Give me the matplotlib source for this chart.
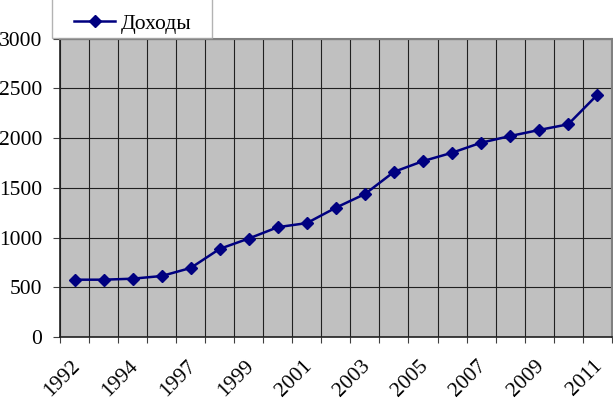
import matplotlib
matplotlib.use('Agg')
import matplotlib.pyplot as plt
import matplotlib.transforms as mtransforms
from matplotlib.legend_handler import HandlerLine2D
import numpy as np

# income by year
years = ['1992', '1993', '1994', '1995', '1997', '1998', '1999', '2000', '2001', '2002',
         '2003', '2004', '2005', '2006', '2007', '2008', '2009', '2010', '2011']
income = [576, 576, 586, 613, 694, 886, 990, 1104, 1145, 1300,
          1437, 1660, 1768, 1852, 1953, 2020, 2081, 2138, 2434]
y_ticks = [0, 500, 1000, 1500, 2000, 2500, 3000]
legend_label = 'Доходы'

plt.rcParams['font.family'] = ['Liberation Serif', 'DejaVu Serif']
FS = 15.5

fig = plt.figure(figsize=(6.13, 3.99), dpi=100)
ax = fig.add_axes([0.0979, 0.1554, 0.9001, 0.748])
ax.set_facecolor('#c0c0c0')

x = np.arange(len(years))
ax.plot(x, income, color='#000080', lw=1.8, marker='D', markersize=6.5,
        markerfacecolor='#000080', markeredgecolor='#000080', label=legend_label, zorder=3)

ax.set_xlim(-0.5, len(years) - 0.5)
ax.set_ylim(0, 3000)
ax.set_yticks(y_ticks)
ax.set_yticklabels([str(v) for v in y_ticks], fontsize=FS)

# boundaries as major ticks (grid), labels on minor ticks at every other category
ax.set_xticks(np.arange(-0.5, len(years), 1.0))
ax.set_xticklabels([])
ax.set_xticks(x[::2], minor=True)
ax.set_xticklabels([years[i] for i in x[::2]], minor=True, rotation=45,
                   ha='right', va='top', rotation_mode='anchor', fontsize=FS)
ax.tick_params(axis='x', which='major', length=4, width=0.8, color='#404040', direction='out')
ax.tick_params(axis='x', which='minor', length=0, pad=14)
ax.tick_params(axis='y', length=5, width=0.8, color='#404040', pad=8)

shift = mtransforms.ScaledTranslation(-4 / 100, 0, fig.dpi_scale_trans)
for lab in ax.get_xticklabels(minor=True):
    lab.set_transform(lab.get_transform() + shift)

ax.grid(True, which='major', color='#202020', lw=0.8)
ax.set_axisbelow(True)

for side in ['left', 'bottom']:
    ax.spines[side].set_color('#202020')
    ax.spines[side].set_linewidth(1.2)
for side in ['top', 'right']:
    ax.spines[side].set_color('#808080')
    ax.spines[side].set_linewidth(1.5)

# legend: frame runs off the top of the image, handle sits well inside the frame
leg = ax.legend(loc='lower left', bbox_to_anchor=(52 / 613, 361 / 399, 160 / 613, 60 / 399),
                bbox_transform=fig.transFigure, mode='expand', fontsize=FS,
                frameon=True, fancybox=False, borderaxespad=0, borderpad=0.2,
                handlelength=2.73, handletextpad=0.25, title=' ', title_fontsize=FS,
                handler_map={matplotlib.lines.Line2D: HandlerLine2D(xpad=0.82)})
leg.get_frame().set_edgecolor('#a0a0a0')
leg.get_frame().set_linewidth(1.0)
leg.set_zorder(5)

fig.savefig('out.png', dpi=100)
